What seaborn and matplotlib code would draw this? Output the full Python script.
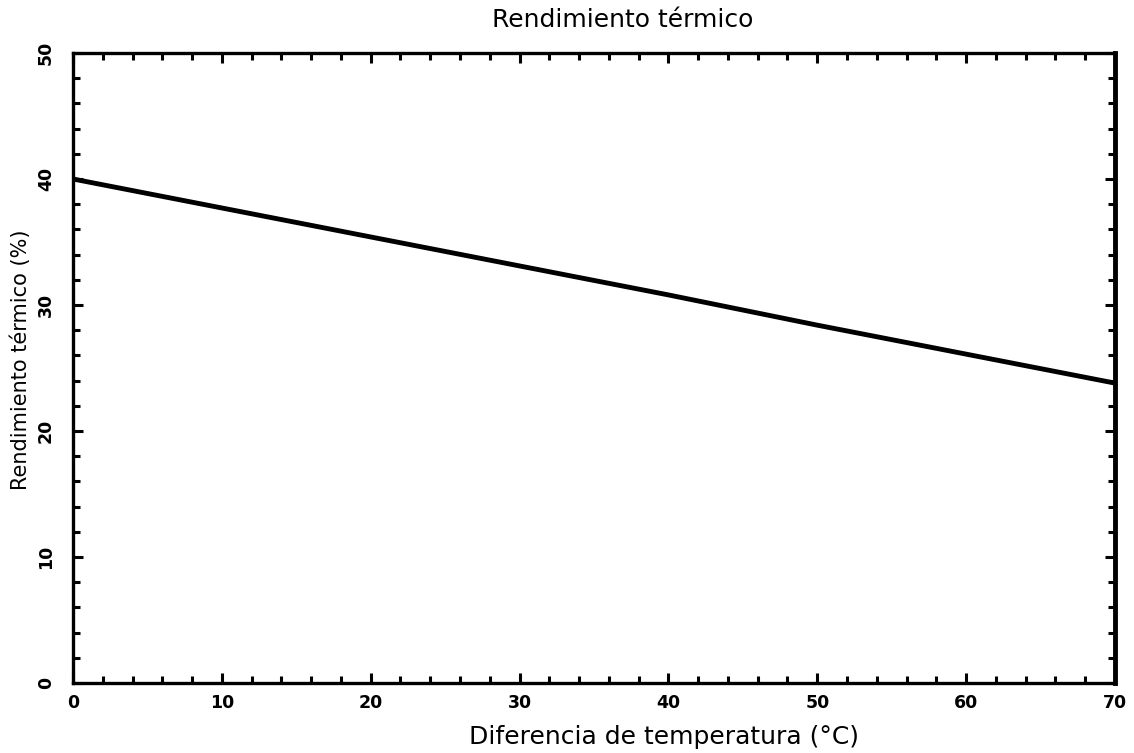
import matplotlib
matplotlib.use("Agg")
import matplotlib.pyplot as plt
import seaborn as sns
import pandas as pd
from matplotlib.ticker import MultipleLocator

# Data
diferencia_temp = [0, 10, 20, 30, 40, 50, 60, 70]
rendimiento = [40.0, 37.7, 35.4, 33.1, 30.8, 28.4, 26.1, 23.8]

x_ticks = [0, 10, 20, 30, 40, 50, 60, 70]
y_ticks = [0, 10, 20, 30, 40, 50]

sns.set_theme(style="white")
plt.rcParams['font.family'] = ['DejaVu Sans']

df = pd.DataFrame({"x": diferencia_temp, "y": rendimiento})

fig = plt.figure(figsize=(11.34, 7.53), dpi=100)
ax = fig.add_axes([0.0644, 0.093, 0.9188, 0.8366])

sns.lineplot(data=df, x="x", y="y", ax=ax, color="black", linewidth=3.5)

ax.set_xlim(0, 70)
ax.set_ylim(0, 50)
ax.set_xticks(x_ticks)
ax.set_yticks(y_ticks)
ax.set_xticklabels([str(v) for v in x_ticks], fontsize=12.5, fontweight="bold")
ax.set_yticklabels([str(v) for v in y_ticks], fontsize=12.5, fontweight="bold",
                   rotation=90, va="center")
ax.xaxis.set_minor_locator(MultipleLocator(2))
ax.yaxis.set_minor_locator(MultipleLocator(2))
ax.tick_params(which="major", direction="in", length=7, width=2.2, top=True, right=True,
               bottom=True, left=True, colors="black")
ax.tick_params(axis="x", which="major", pad=8)
ax.tick_params(axis="y", which="major", pad=13)
ax.tick_params(which="minor", direction="in", length=5, width=2.2, top=True, right=True,
               bottom=True, left=True, colors="black")
for side, s in ax.spines.items():
    s.set_visible(True)
    s.set_color("black")
    s.set_linewidth(2.4)
ax.spines["right"].set_linewidth(3.5)

ax.set_xlabel("Diferencia de temperatura (°C)", fontsize=18, color="black")
ax.xaxis.set_label_coords(0.567, -0.066)
ax.set_ylabel("Rendimiento térmico (%)", fontsize=15, color="black")
ax.yaxis.set_label_coords(-0.04, 0.513)
ax.set_title("Rendimiento térmico", fontsize=18, color="black", x=0.528, y=1.041, pad=0)

fig.savefig("out.png", dpi=100)
